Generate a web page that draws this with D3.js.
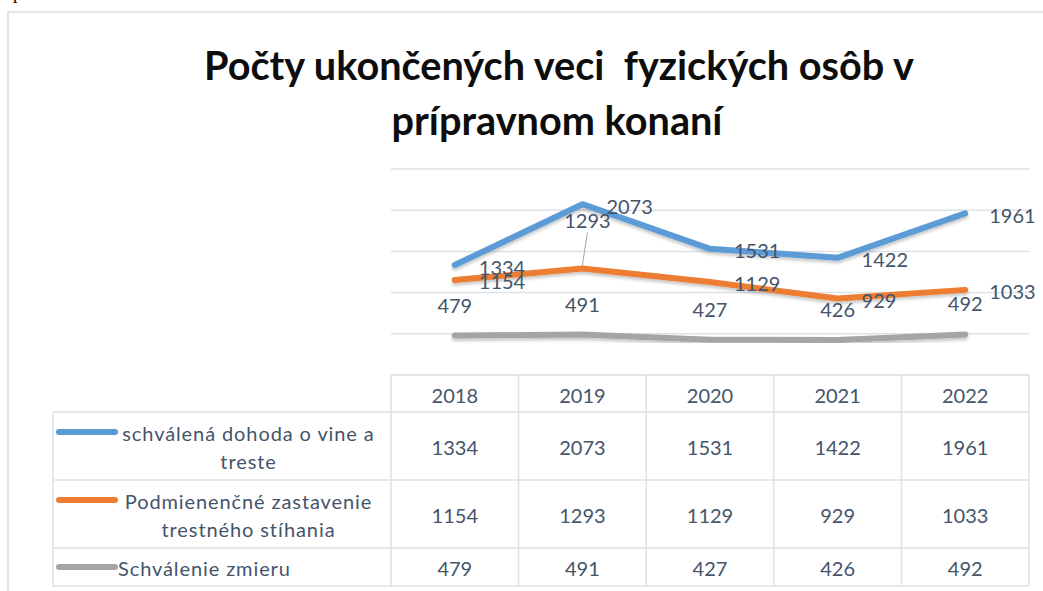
<!DOCTYPE html>
<html>
<head>
<meta charset="utf-8">
<script src="https://cdn.jsdelivr.net/npm/d3@7"></script>
<style>
  body { margin: 0; background: #fff; }
  svg text { font-family: Lato, 'Open Sans', sans-serif; }
</style>
</head>
<body>
<div class="chart"></div>
<script>
// chart data
const years = ['2018', '2019', '2020', '2021', '2022']
const dohoda = [1334, 2073, 1531, 1422, 1961]
const podmienecne = [1154, 1293, 1129, 929, 1033]
const zmier = [479, 491, 427, 426, 492]
const seriesNames = [
    ['schválená dohoda o vine a', 'treste'],
    ['Podmienenčné zastavenie', 'trestného stíhania'],
    ['Schválenie zmieru']
]
const yTicks = [0, 500, 1000, 1500, 2000, 2500]
const titleLines = ['Počty ukončených veci  fyzických osôb v', 'prípravnom konaní']

const series = [dohoda, podmienecne, zmier]
const colours = ['#5B9BD5', '#ED7D31', '#A5A5A5']
const textColour = '#44546A'
const gridColour = '#DDE2E9'

const plot = { left: 391, right: 1029, top: 169, bottom: 375 }
const table = { left: 53, keyX1: 59, keyX2: 115, textX: 118, rowHeights: [37, 68, 68, 38] }

const svg = d3.select('.chart')
    .append('svg')
    .attr('width', 1043)
    .attr('height', 591)

const defs = svg.append('defs')
defs.append('filter')
    .attr('id', 'shadow')
    .attr('x', '-10%').attr('y', '-50%').attr('width', '120%').attr('height', '200%')
    .append('feDropShadow')
    .attr('dx', 0).attr('dy', 2.5)
    .attr('stdDeviation', 1.5)
    .attr('flood-color', '#000')
    .attr('flood-opacity', 0.22)

// fragment of the surrounding document + chart frame
svg.append('text')
    .attr('x', 13).attr('y', -1)
    .style('font-family', '"Liberation Serif", serif')
    .style('font-size', '18px')
    .text('p')
svg.append('path')
    .attr('d', 'M8,591V12H1043')
    .attr('fill', 'none')
    .attr('stroke', '#D9DDE3')
    .attr('stroke-width', 1.5)

// title, scaled to width of the original
const title = svg.append('g')
    .style('font-weight', 'bold')
    .style('fill', '#0d0d0d')
const t1 = title.append('text')
    .attr('x', 559).attr('y', 80)
    .attr('text-anchor', 'middle')
    .attr('xml:space', 'preserve')
    .style('white-space', 'pre')
    .style('font-size', '34px')
    .text(titleLines[0])
const titleSize = 34 * 710 / t1.node().getComputedTextLength()
t1.style('font-size', titleSize + 'px')
title.append('text')
    .attr('x', 557).attr('y', 135)
    .attr('text-anchor', 'middle')
    .style('font-size', titleSize + 'px')
    .text(titleLines[1])

// scales
const xScale = d3.scaleBand().domain(years).range([plot.left, plot.right])
const cx = year => xScale(year) + xScale.bandwidth() / 2
const yScale = d3.scaleLinear().domain([0, 2500]).range([plot.bottom, plot.top])

// gridlines
svg.append('g').selectAll('line')
    .data(yTicks)
    .enter().append('line')
    .attr('x1', plot.left).attr('x2', plot.right)
    .attr('y1', d => yScale(d)).attr('y2', d => yScale(d))
    .attr('stroke', gridColour)
    .attr('stroke-width', 1.5)

// lines
const line = d3.line()
    .x((v, i) => cx(years[i]))
    .y(v => yScale(v))

svg.append('g').selectAll('path')
    .data(series)
    .enter().append('path')
    .attr('d', line)
    .attr('fill', 'none')
    .attr('stroke', (d, i) => colours[i])
    .attr('stroke-width', 6)
    .attr('stroke-linecap', 'round')
    .attr('stroke-linejoin', 'round')
    .attr('filter', 'url(#shadow)')

// data labels: first two series to the right of the point, last one above
const labelPlacement = ['right', 'right', 'above']
// 1293 label was dragged in the original, with a leader line
const movedLabels = { '1-1': { dx: 5, dy: -48 } }

const labels = svg.append('g')
    .style('font-size', '20px')
    .style('fill', textColour)

series.forEach((values, s) => {
    values.forEach((v, i) => {
        let px = cx(years[i]), py = yScale(v)
        let moved = movedLabels[s + '-' + i]
        let text = labels.append('text')
            .attr('dominant-baseline', 'central')
            .text(v)
        if (moved) {
            text.attr('x', px + moved.dx).attr('y', py + moved.dy).attr('text-anchor', 'middle')
            labels.append('line')
                .attr('x1', px + moved.dx).attr('y1', py + moved.dy + 12)
                .attr('x2', px).attr('y2', py - 3)
                .attr('stroke', '#A6A6A6')
                .attr('stroke-width', 1)
        } else if (labelPlacement[s] === 'right') {
            text.attr('x', px + 24).attr('y', py + 1.5).attr('text-anchor', 'start')
        } else {
            text.attr('x', px).attr('y', py - 31).attr('text-anchor', 'middle')
        }
    })
})

// data table
const rowTops = [plot.bottom]
table.rowHeights.forEach(h => rowTops.push(rowTops[rowTops.length - 1] + h))
const tableBottom = rowTops[rowTops.length - 1]

const grid = svg.append('g')
    .attr('stroke', gridColour)
    .attr('stroke-width', 1.5)
grid.append('line')
    .attr('x1', plot.left).attr('x2', plot.right)
    .attr('y1', rowTops[0]).attr('y2', rowTops[0])
grid.selectAll('.hrow')
    .data(rowTops.slice(1))
    .enter().append('line')
    .attr('x1', table.left).attr('x2', plot.right)
    .attr('y1', d => d).attr('y2', d => d)
grid.append('line')
    .attr('x1', table.left).attr('x2', table.left)
    .attr('y1', rowTops[1]).attr('y2', tableBottom)
grid.selectAll('.vcol')
    .data(years.map(y => xScale(y)).concat([plot.right]))
    .enter().append('line')
    .attr('x1', d => d).attr('x2', d => d)
    .attr('y1', rowTops[0]).attr('y2', tableBottom)

const cells = svg.append('g')
    .style('font-size', '20px')
    .style('fill', textColour)
    .attr('text-anchor', 'middle')
    .attr('dominant-baseline', 'central')

cells.selectAll('.year')
    .data(years)
    .enter().append('text')
    .attr('x', d => cx(d))
    .attr('y', (rowTops[0] + rowTops[1]) / 2 + 1)
    .text(d => d)

series.forEach((values, s) => {
    let top = rowTops[s + 1], bottom = rowTops[s + 2]
    let mid = (top + bottom) / 2
    cells.selectAll('.val' + s)
        .data(values)
        .enter().append('text')
        .attr('x', (d, i) => cx(years[i]))
        .attr('y', mid + 1)
        .text(d => d)

    // legend key and series name
    let names = seriesNames[s]
    let firstY = names.length > 1 ? mid - 14 : mid
    svg.append('line')
        .attr('x1', table.keyX1).attr('x2', table.keyX2)
        .attr('y1', firstY).attr('y2', firstY)
        .attr('stroke', colours[s])
        .attr('stroke-width', 6)
        .attr('stroke-linecap', 'round')
    names.forEach((n, k) => {
        let t = cells.append('text')
            .attr('y', firstY + k * 28 + 1)
            .style('letter-spacing', '0.9px')
            .text(n)
        if (names.length > 1) {
            t.attr('x', (table.textX + plot.left - 12) / 2)
        } else {
            t.attr('x', table.textX).attr('text-anchor', 'start')
        }
    })
})
</script>
</body>
</html>
